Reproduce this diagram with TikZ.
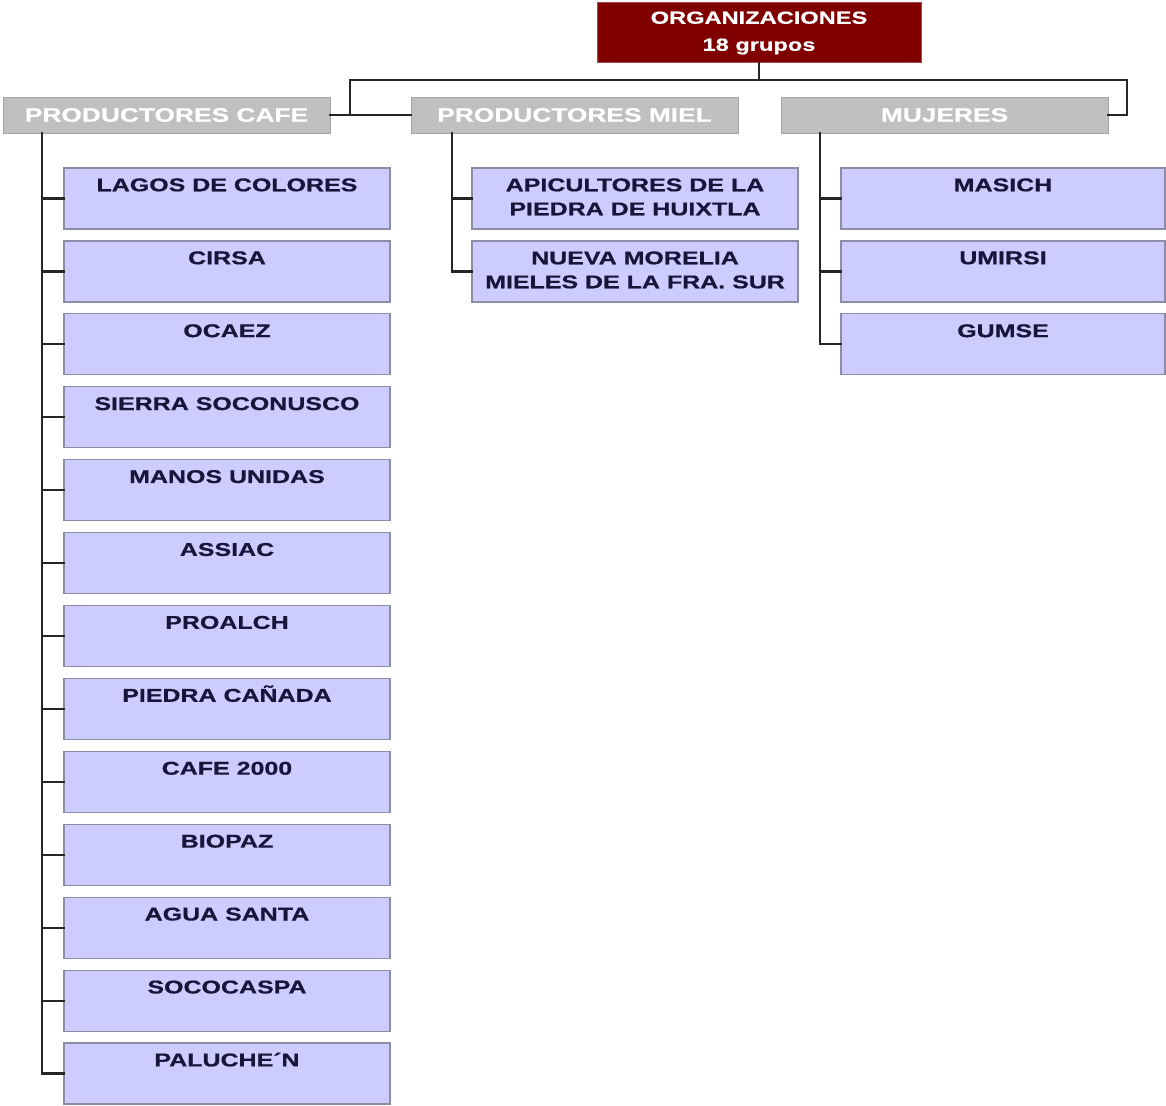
\documentclass[tikz,border=0pt]{standalone}
\usepackage{fontspec}
\setmainfont{Liberation Sans}[FakeStretch=1.35, BoldFeatures={FakeBold=0.6}]
\definecolor{orgred}{HTML}{800000}
\definecolor{graybox}{HTML}{C0C0C0}
\definecolor{bluebox}{HTML}{CCCCFF}
\definecolor{blueedge}{HTML}{8C8CA6}
\definecolor{navy}{HTML}{16163A}
\definecolor{linec}{HTML}{262626}
\tikzset{
  orgbox/.style={draw=orgred!70!white, line width=1pt, fill=orgred, text=white, anchor=north west,
    minimum width=324pt, minimum height=60pt, inner sep=0pt, outer sep=0pt, align=center,
    font=\bfseries\fontsize{17.5}{27}\selectfont},
  catbox/.style={fill=graybox, draw=graybox!85!black, line width=0.6pt, text=white, anchor=north west,
    minimum width=327pt, minimum height=36pt, inner sep=0pt, outer sep=0pt,
    font=\bfseries\fontsize{19.5}{24}\selectfont},
  itembox/.style={fill=bluebox, draw=blueedge, line width=1.2pt, text=navy, anchor=north west,
    minimum width=326pt, minimum height=61pt, inner sep=0pt, outer sep=0pt, align=center,
    font=\bfseries\fontsize{18.5}{24}\selectfont},
  conn/.style={draw=linec, line width=2.2pt, line cap=rect}
}
\begin{document}
\begin{tikzpicture}[x=1pt,y=-1pt]
\useasboundingbox (0,0) rectangle (1166,1105);
\node[orgbox] (org) at (597,3) {\raisebox{-2pt}{ORGANIZACIONES}\\\raisebox{-2pt}{18 grupos}};
\node[catbox] (cafe) at (3,97) {\raisebox{-1pt}{PRODUCTORES CAFE}};
\node[catbox] (miel) at (411,97) {\raisebox{-1pt}{PRODUCTORES MIEL}};
\node[catbox] (muj) at (781,97) {\raisebox{-1pt}{MUJERES}};
\coordinate (jl) at (350,80);
\coordinate (jr) at (1127,80);
\draw[conn] (org.south) -- (org.south |- jl) -- (jl) |- (cafe.east);
\draw[conn] (jl) |- (miel.west);
\draw[conn] (org.south |- jl) -- (jr) |- (muj.east);
% cafe items
\foreach \t [count=\i from 0] in {LAGOS DE COLORES, CIRSA, OCAEZ, SIERRA SOCONUSCO, MANOS UNIDAS, ASSIAC, PROALCH, PIEDRA CAÑADA, CAFE 2000, BIOPAZ, AGUA SANTA, SOCOCASPA, PALUCHE´N}{
  \node[itembox] (c\i) at (64,{168+72.92*\i}) {\strut\t\\\strut};
  \draw[conn] ([xshift=39pt]cafe.south west |- c\i.west) -- (c\i.west);
}
\draw[conn] ([xshift=39pt]cafe.south west) |- (c12.west);
% miel items
\node[itembox] (m0) at (472,168) {\strut APICULTORES DE LA\\\strut PIEDRA DE HUIXTLA};
\node[itembox] (m1) at (472,241) {\strut NUEVA MORELIA\\\strut MIELES DE LA FRA. SUR};
\draw[conn] ([xshift=41pt]miel.south west |- m0.west) -- (m0.west);
\draw[conn] ([xshift=41pt]miel.south west) |- (m1.west);
% mujeres items
\foreach \t [count=\i from 0] in {MASICH, UMIRSI, GUMSE}{
  \node[itembox, minimum width=324pt] (w\i) at (841,{168+72.92*\i}) {\strut\t\\\strut};
  \draw[conn] ([xshift=39pt]muj.south west |- w\i.west) -- (w\i.west);
}
\draw[conn] ([xshift=39pt]muj.south west) |- (w2.west);
\end{tikzpicture}
\end{document}
